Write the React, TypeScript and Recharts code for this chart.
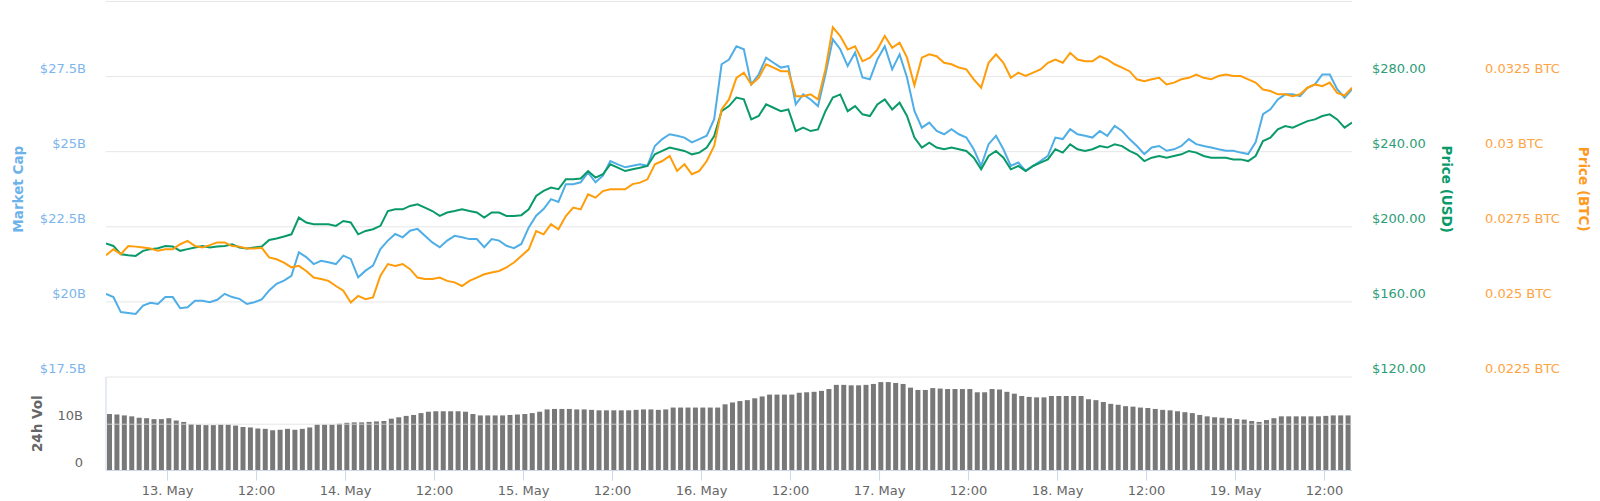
import React from 'react';
import {
  LineChart, Line, BarChart, Bar, XAxis, YAxis, CartesianGrid, ReferenceLine,
} from 'recharts';

// hours relative to 13 May 00:00; the window starts on 12 May ~15:42
const START_HOUR = -8.3;
const END_HOUR = 159.7;

// market cap, billions USD (hourly)
const marketCap = [
  20.27, 20.16, 19.66, 19.63, 19.6, 19.88, 19.97, 19.93, 20.16, 20.16,
  19.79, 19.82, 20.04, 20.04, 19.99, 20.07, 20.27, 20.16, 20.1, 19.93,
  19.99, 20.08, 20.38, 20.6, 20.71, 20.87, 21.65, 21.49, 21.26, 21.37,
  21.32, 21.26, 21.54, 21.43, 20.82, 21.04, 21.21, 21.76, 22.04, 22.26,
  22.15, 22.37, 22.43, 22.2, 21.98, 21.82, 22.04, 22.2, 22.15, 22.09,
  22.09, 21.82, 22.09, 22.04, 21.87, 21.79, 21.93, 22.48, 22.87, 23.09,
  23.42, 23.33, 23.92, 23.92, 23.98, 24.31, 23.98, 24.2, 24.69, 24.58,
  24.48, 24.53, 24.58, 24.53, 25.19, 25.42, 25.58, 25.53, 25.47, 25.31,
  25.42, 25.53, 26.08, 27.91, 28.07, 28.51, 28.41, 27.24, 27.57, 28.13,
  27.96, 27.8, 27.85, 26.58, 26.91, 26.74, 26.52, 27.57, 28.74, 28.41,
  27.85, 28.3, 27.47, 27.41, 28.07, 28.51, 27.74, 28.24, 27.47, 26.36,
  25.8, 25.97, 25.69, 25.58, 25.75, 25.58, 25.47, 25.08, 24.53, 25.25,
  25.53, 25.08, 24.53, 24.64, 24.36, 24.53, 24.69, 24.86, 25.47, 25.42,
  25.75, 25.58, 25.53, 25.47, 25.69, 25.53, 25.86, 25.69, 25.42, 25.19,
  24.92, 25.14, 25.19, 25.03, 25.08, 25.19, 25.42, 25.25, 25.19, 25.14,
  25.08, 25.03, 25.03, 24.97, 24.92, 25.31, 26.25, 26.41, 26.74, 26.91,
  26.91, 26.85, 27.13, 27.24, 27.57, 27.57, 27.08, 26.8, 27.08,
];

// price in USD (hourly)
const priceUsd = [
  191.1, 189.8, 185.4, 184.9, 184.5, 187.2, 188.1, 188.6, 189.8, 189.5,
  187.2, 188.1, 189.0, 189.8, 189.0, 189.5, 189.8, 190.7, 189.0, 188.4,
  189.0, 189.5, 193.0, 193.8, 194.8, 196.0, 204.9, 202.3, 201.4, 201.4,
  201.4, 200.5, 203.1, 202.3, 196.0, 197.8, 198.7, 200.5, 208.4, 209.3,
  209.3, 211.1, 212.0, 210.2, 208.4, 205.8, 207.6, 208.4, 209.3, 208.4,
  207.6, 204.9, 207.6, 207.6, 205.8, 205.8, 206.2, 209.3, 216.4, 219.1,
  220.9, 220.0, 225.3, 225.3, 225.7, 229.7, 226.2, 228.0, 233.3, 231.5,
  229.7, 230.6, 231.5, 232.4, 238.6, 240.4, 242.2, 241.3, 240.4, 238.6,
  239.5, 242.2, 248.3, 261.6, 264.3, 268.8, 267.9, 257.2, 259.0, 265.2,
  263.4, 261.6, 262.5, 251.0, 252.8, 251.0, 251.9, 261.6, 268.8, 270.5,
  261.6, 264.3, 259.9, 259.0, 265.2, 267.9, 262.5, 266.1, 259.0, 247.5,
  242.2, 244.8, 242.2, 241.3, 242.2, 241.3, 240.4, 236.8, 230.6, 237.7,
  240.4, 236.8, 230.6, 232.4, 229.7, 232.4, 234.2, 235.9, 241.3, 239.5,
  243.9, 241.3, 240.4, 241.3, 243.0, 242.2, 243.9, 243.0, 240.4, 238.6,
  235.0, 236.8, 237.7, 236.8, 237.7, 238.6, 240.4, 239.5, 237.7, 236.8,
  236.8, 236.8, 235.9, 235.9, 235.0, 237.7, 245.7, 247.5, 251.9, 253.7,
  252.8, 254.6, 256.3, 257.2, 259.0, 259.9, 257.2, 252.8, 255.5,
];

// price in BTC (hourly)
const priceBtc = [
  0.02655, 0.02675, 0.02659, 0.02686, 0.02684, 0.02681, 0.02678, 0.0267, 0.02675, 0.02675,
  0.02692, 0.02703, 0.02686, 0.02681, 0.02689, 0.02698, 0.02698, 0.02686, 0.02684, 0.02678,
  0.02678, 0.0268, 0.02648, 0.02642, 0.02631, 0.02615, 0.0262, 0.02603, 0.02581, 0.02576,
  0.0257, 0.02553, 0.02537, 0.02498, 0.0252, 0.02509, 0.02515, 0.02587, 0.02626, 0.0262,
  0.02626, 0.02609, 0.02581, 0.02576, 0.02576, 0.02581, 0.0257, 0.02565, 0.02553, 0.0257,
  0.02581, 0.02592, 0.02598, 0.02603, 0.02615, 0.02631, 0.02653, 0.02675, 0.02736, 0.02725,
  0.02759, 0.02742, 0.02786, 0.02814, 0.02808, 0.02858, 0.02847, 0.02869, 0.02875, 0.02875,
  0.02875, 0.02892, 0.02897, 0.02908, 0.02958, 0.02969, 0.02986, 0.02936, 0.02958, 0.02925,
  0.02936, 0.02969, 0.03019, 0.03141, 0.03174, 0.03246, 0.03263, 0.03224, 0.03246, 0.03291,
  0.0328, 0.03268, 0.03268, 0.03185, 0.03185, 0.03191, 0.03174, 0.03274, 0.03414, 0.03385,
  0.0334, 0.03351, 0.03301, 0.03313, 0.0334, 0.03385, 0.03346, 0.03363, 0.03313, 0.03221,
  0.03313, 0.03324, 0.03318, 0.03296, 0.03291, 0.0328, 0.03274, 0.03241, 0.03213, 0.03296,
  0.03324, 0.03296, 0.03246, 0.03263, 0.03252, 0.03263, 0.03274, 0.03296, 0.03307, 0.03296,
  0.03329, 0.03307, 0.03301, 0.03301, 0.03318, 0.03307, 0.03291, 0.0328, 0.03268, 0.03241,
  0.03235, 0.03241, 0.03246, 0.03224, 0.0323, 0.03241, 0.03246, 0.03257, 0.03246, 0.03241,
  0.03252, 0.03257, 0.03252, 0.03252, 0.03241, 0.0323, 0.03207, 0.03202, 0.03191, 0.03191,
  0.03185, 0.03191, 0.03213, 0.03224, 0.03218, 0.0323, 0.03196, 0.03187, 0.03213,
];

// 24h volume, billions USD (one bar per hour)
const volume24h = [
  12.2, 12.1, 11.9, 11.7, 11.4, 11.3, 11.1, 11.1, 11.3, 10.8,
  10.5, 10.0, 9.9, 9.8, 9.8, 9.9, 9.9, 9.7, 9.4, 9.3,
  9.1, 9.0, 8.7, 8.8, 9.0, 8.8, 9.0, 9.3, 9.9, 9.9,
  9.9, 10.1, 10.3, 10.4, 10.4, 10.5, 10.6, 10.7, 11.2, 11.5,
  11.8, 12.0, 12.4, 12.7, 12.8, 12.8, 12.8, 12.8, 12.7, 12.2,
  11.9, 11.9, 11.9, 11.9, 12.0, 12.1, 12.2, 12.4, 12.7, 13.2,
  13.3, 13.3, 13.3, 13.2, 13.2, 13.1, 13.0, 13.0, 13.0, 13.0,
  13.0, 13.1, 13.2, 13.2, 13.1, 13.2, 13.6, 13.6, 13.6, 13.6,
  13.6, 13.6, 13.6, 14.3, 14.7, 15.0, 15.2, 15.6, 16.0, 16.4,
  16.4, 16.4, 16.4, 16.8, 16.9, 17.0, 17.2, 17.6, 18.5, 18.5,
  18.4, 18.4, 18.5, 18.7, 19.1, 19.1, 18.9, 18.7, 17.9, 17.4,
  17.4, 17.8, 17.7, 17.6, 17.6, 17.6, 17.6, 16.9, 16.9, 17.6,
  17.5, 17.0, 16.6, 16.1, 15.9, 15.8, 15.8, 16.1, 16.1, 16.1,
  16.1, 16.1, 15.4, 15.2, 14.8, 14.4, 14.2, 13.9, 13.8, 13.6,
  13.5, 13.3, 13.1, 13.0, 12.8, 12.6, 12.4, 12.0, 11.7, 11.5,
  11.4, 11.3, 11.1, 11.0, 10.7, 10.5, 10.9, 11.3, 11.7, 11.7,
  11.7, 11.7, 11.7, 11.7, 11.8, 11.9, 11.9, 11.9,
];

const timeTicks = [0, 12, 24, 36, 48, 60, 72, 84, 96, 108, 120, 132, 144, 156];
const capTicks = [17.5, 20, 22.5, 25, 27.5, 30];
const usdTicks = [120, 160, 200, 240, 280, 320];
const btcTicks = [0.0225, 0.025, 0.0275, 0.03, 0.0325, 0.035];
const volTicks = [0, 10];

const FONT = '"DejaVu Sans", Verdana, sans-serif';
const BLUE = '#4faee6';
const GREEN = '#0a9a6a';
const ORANGE = '#ff9c0a';

const lineData = marketCap.map((mc, i) => ({
  t: START_HOUR + i,
  mc,
  usd: priceUsd[i],
  btc: priceBtc[i],
}));

const volData = volume24h.map((v, i) => ({ t: START_HOUR + i + 0.5, v }));

const formatTime = (h: number) => (h % 24 === 0 ? `${13 + h / 24}. May` : '12:00');

// tick label sitting a few px above its grid line, like Highcharts
const makeTick = (color: string, anchor: 'start' | 'end', fmt: (v: number) => string, skip?: number) =>
  ({ x, y, payload }: any) => {
    if (skip !== undefined && Math.abs(payload.value - skip) < 1e-9) return null;
    return (
      <text x={x} y={y - 4} fill={color} fontSize={13} fontFamily={FONT} textAnchor={anchor}>
        {fmt(payload.value)}
      </text>
    );
  };

const axisTitle = (text: string, color: string, dx: number, angle: number) =>
  ({ viewBox }: any) => {
    const cx = viewBox.x + dx;
    const cy = viewBox.y + viewBox.height / 2;
    return (
      <text
        x={cx}
        y={cy}
        transform={`rotate(${angle} ${cx} ${cy})`}
        textAnchor="middle"
        dominantBaseline="central"
        fill={color}
        fontSize={13.5}
        fontWeight="bold"
        fontFamily={FONT}
      >
        {text}
      </text>
    );
  };

const App: React.FC = () => {
  return (
    <div style={{ position: 'relative', width: 1600, height: 501, background: '#fff', fontFamily: FONT }}>
      <style>{'body{margin:0}'}</style>
      <div style={{ position: 'absolute', left: 0, top: 0 }}>
        <LineChart width={1600} height={378} data={lineData} margin={{ top: 1.5, right: 0, bottom: 1, left: 0 }}>
          <CartesianGrid yAxisId="cap" vertical={false} stroke="#e6e6e6" />
          <XAxis dataKey="t" type="number" domain={[START_HOUR, END_HOUR]} ticks={timeTicks} hide allowDataOverflow />
          <YAxis
            yAxisId="cap"
            orientation="left"
            width={106}
            domain={[17.5, 30]}
            ticks={capTicks}
            interval={0}
            axisLine={false}
            tickLine={false}
            tickSize={0}
            tickMargin={20}
            tick={makeTick('#7cb5ec', 'end', (v) => `$${v}B`, 30)}
            label={{ content: axisTitle('Market Cap', '#6db3ea', 18, -90) }}
          />
          <YAxis
            yAxisId="r1usd"
            orientation="right"
            width={133}
            domain={[120, 320]}
            ticks={usdTicks}
            interval={0}
            axisLine={false}
            tickLine={false}
            tickSize={0}
            tickMargin={20}
            tick={makeTick('#2e9c78', 'start', (v) => `$${v.toFixed(2)}`, 320)}
            label={{ content: axisTitle('Price (USD)', GREEN, 95, 90) }}
          />
          <YAxis
            yAxisId="r2btc"
            orientation="right"
            width={115}
            domain={[0.0225, 0.035]}
            ticks={btcTicks}
            interval={0}
            axisLine={false}
            tickLine={false}
            tickSize={0}
            tickMargin={0}
            tick={makeTick('#ffa443', 'start', (v) => `${v} BTC`, 0.035)}
            label={{ content: axisTitle('Price (BTC)', '#ff9a1f', 99, 90) }}
          />
          <Line yAxisId="cap" dataKey="mc" stroke={BLUE} strokeWidth={2} dot={false} isAnimationActive={false} />
          <Line yAxisId="r1usd" dataKey="usd" stroke={GREEN} strokeWidth={2} dot={false} isAnimationActive={false} />
          <Line yAxisId="r2btc" dataKey="btc" stroke={ORANGE} strokeWidth={2} dot={false} isAnimationActive={false} />
        </LineChart>
      </div>
      <div style={{ position: 'absolute', left: 0, top: 377 }}>
        <BarChart width={1600} height={124} data={volData} margin={{ top: 0, right: 248, bottom: 0, left: 0 }}>
          <XAxis
            dataKey="t"
            type="number"
            domain={[START_HOUR, END_HOUR]}
            ticks={timeTicks}
            interval={0}
            tickFormatter={formatTime}
            allowDataOverflow
            height={30.5}
            stroke="#ccd6eb"
            tickSize={10}
            tickMargin={5}
            tick={{ fill: '#666', fontSize: 13, fontFamily: FONT }}
          />
          <YAxis
            orientation="left"
            width={106}
            domain={[0, 20.2]}
            ticks={volTicks}
            interval={0}
            axisLine={{ stroke: '#ccd6eb' }}
            tickLine={false}
            tickSize={0}
            tickMargin={23}
            tick={makeTick('#666', 'end', (v) => (v === 0 ? '0' : `${v}B`))}
            label={{ content: axisTitle('24h Vol', '#666', 37, -90) }}
          />
          <Bar dataKey="v" fill="#787878" barSize={5} isAnimationActive={false} />
          <ReferenceLine y={10} stroke="#e0e0e0" strokeOpacity={0.8} />
        </BarChart>
      </div>
    </div>
  );
};

export default App;
